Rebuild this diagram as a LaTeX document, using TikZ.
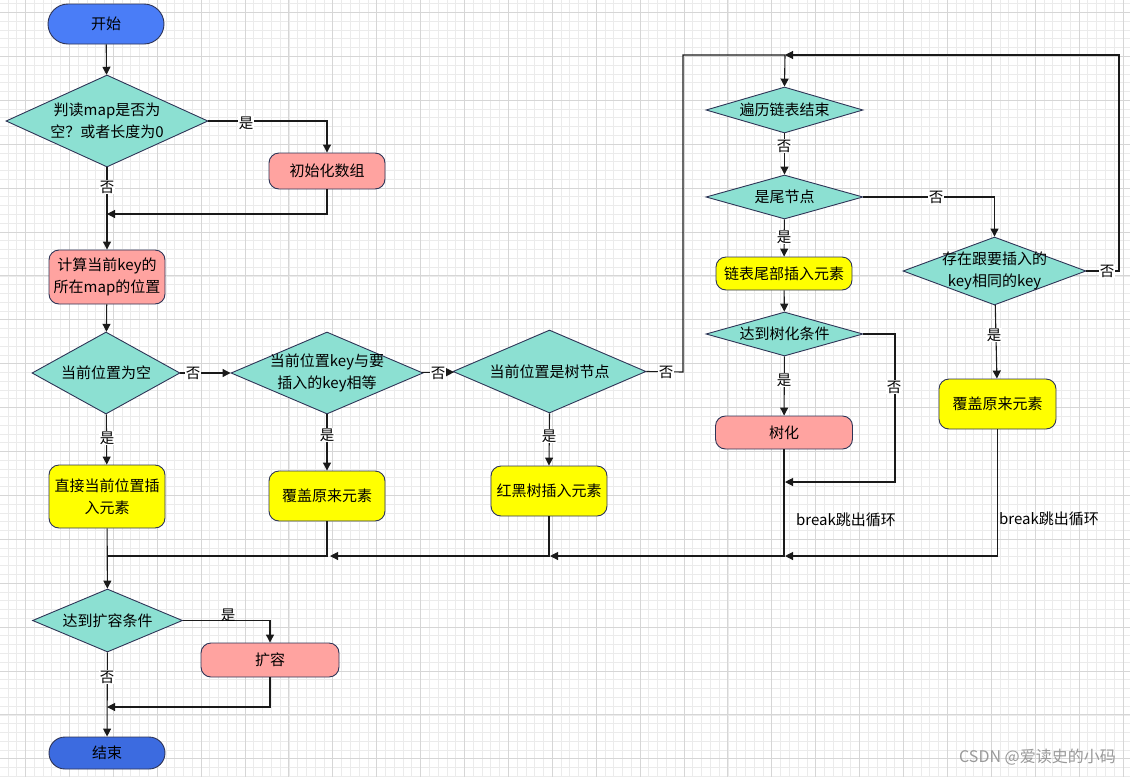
\documentclass[tikz,border=0pt]{standalone}
\usepackage{fontspec}
\setmainfont{Noto Sans CJK SC}
\usetikzlibrary{shapes.geometric,arrows.meta}
\definecolor{startblue}{HTML}{4A7DF7}
\definecolor{endblue}{HTML}{3C6BE0}
\definecolor{dteal}{HTML}{8CE0D2}
\definecolor{salmon}{HTML}{FFA3A0}
\definecolor{byellow}{HTML}{FFFF00}
\definecolor{border}{HTML}{2E3456}
\definecolor{edgec}{HTML}{1A1A1A}
\definecolor{gminor}{HTML}{EBEBEB}
\definecolor{gmajor}{HTML}{D6D6D6}
\begin{document}
\begin{tikzpicture}[x=1pt,y=-1pt,
  every node/.style={font=\fontsize{15}{22}\selectfont, text=black},
  box/.style={draw=border, line width=0.9pt, rounded corners=10, align=center, inner sep=0},
  term/.style={draw=border, line width=0.9pt, align=center, inner sep=0},
  dia/.style={diamond, draw=border, line width=0.9pt, fill=dteal, inner sep=0},
  dl/.style={label={[align=center, inner sep=0, font=\fontsize{15}{21.5}\selectfont]center:#1}},
  arr/.style={draw=edgec, line width=1.1pt, -{Triangle[length=8pt,width=8pt]}},
  ln/.style={draw=edgec, line width=1.1pt},
  lab/.style={fill=white, inner sep=1pt, font=\fontsize{14.5}{16}\selectfont}
]
\useasboundingbox (0,0) rectangle (1130,777);
\fill[white] (0,0) rectangle (1130,777);
% grid
\foreach \i in {-3,...,126} {
  \draw[gminor, line width=0.8pt] ({25.5+8.78*\i},0) -- ({25.5+8.78*\i},777);
}
\foreach \j in {-2,...,88} {
  \draw[gminor, line width=0.8pt] (0,{12.5+8.78*\j}) -- (1130,{12.5+8.78*\j});
}
\foreach \i in {0,...,25} {
  \draw[gmajor, line width=0.9pt] ({25.5+43.9*\i},0) -- ({25.5+43.9*\i},777);
}
\foreach \j in {0,...,17} {
  \draw[gmajor, line width=0.9pt] (0,{12.5+43.9*\j}) -- (1130,{12.5+43.9*\j});
}

% nodes
\node[term, fill=startblue, minimum width=116, minimum height=40, rounded corners=20] (start) at (106,24) {开始};
\node[dia, minimum width=202, minimum height=92, dl={判读map是否为\\空？或者长度为0}] (d1) at (107,121) {};
\node[box, fill=salmon, minimum width=116, minimum height=36] (init) at (327,171) {初始化数组};
\node[box, fill=salmon, minimum width=116, minimum height=54] (calc) at (107,277) {计算当前key的\\所在map的位置};
\node[dia, minimum width=148, minimum height=82, dl={当前位置为空}] (d2) at (106,373) {};
\node[dia, minimum width=192, minimum height=82, dl={当前位置key与要\\插入的key相等}] (d3) at (327,373) {};
\node[dia, minimum width=193, minimum height=83, dl={当前位置是树节点}] (d4) at (549.5,371.5) {};
\node[box, fill=byellow, minimum width=116, minimum height=63] (direct) at (107,496.5) {直接当前位置插\\入元素};
\node[box, fill=byellow, minimum width=116, minimum height=50] (cover1) at (327,496) {覆盖原来元素};
\node[box, fill=byellow, minimum width=116, minimum height=50] (rbt) at (549,491) {红黑树插入元素};
\node[dia, minimum width=157, minimum height=46, dl={遍历链表结束}] (d5) at (784.5,110) {};
\node[dia, minimum width=157, minimum height=44, dl={是尾节点}] (d6) at (784.5,197) {};
\node[box, fill=byellow, minimum width=136, minimum height=33] (tail) at (784,273.5) {链表尾部插入元素};
\node[dia, minimum width=157, minimum height=44, dl={达到树化条件}] (d8) at (784.5,334) {};
\node[box, fill=salmon, minimum width=137, minimum height=33] (tree) at (784,432.5) {树化};
\node[dia, minimum width=183, minimum height=68, dl={存在跟要插入的\\key相同的key}] (d7) at (994.5,271) {};
\node[box, fill=byellow, minimum width=117, minimum height=50] (cover2) at (997.5,404) {覆盖原来元素};
\node[dia, minimum width=150, minimum height=63, dl={达到扩容条件}] (d9) at (107.5,620.5) {};
\node[box, fill=salmon, minimum width=138, minimum height=34] (expand) at (270,660) {扩容};
\node[term, fill=endblue, minimum width=116, minimum height=32, rounded corners=16] (end) at (107,753) {结束};

% coordinates
\coordinate (j1) at (107,214);
\coordinate (l1) at (683,372);
\coordinate (loop) at (785,55);
\coordinate (r1) at (1119,271);
\coordinate (t1) at (895,334);
\coordinate (t2) at (785,482);
\coordinate (m1) at (107,556);
\coordinate (m2) at (330,556);
\coordinate (m3) at (550,556);
\coordinate (m4) at (785,556);
\coordinate (e1) at (107,707);

% connectors
\draw[arr] (start) -- (d1);
\draw[arr] (d1.east) -| (init.north);
\draw[arr] (d1) -- (calc);
\draw[arr] (init.south) |- (j1);
\draw[arr] (calc) -- (d2);
\draw[arr] (d2) -- (d3);
\draw[arr] (d3) -- (d4);
\draw[arr] (d4.east) -- (l1) |- (loop) -- (d5.north);
\draw[arr] (d7.east) -- (r1) |- (loop);
\draw[arr] (d5) -- (d6);
\draw[arr] (d6.east) -| (d7.north);
\draw[arr] (d6) -- (tail);
\draw[arr] (tail) -- (d8);
\draw[arr] (d8) -- (tree);
\draw[arr] (d8.east) -- (t1) |- (t2);
\draw[arr] (d7) -- (cover2);
\draw[arr] (tree.south) |- (m3);
\draw[arr] (cover2.south) |- (m4);
\draw[arr] (rbt.south) |- (m2);
\draw[ln] (cover1.south) |- (m1);
\draw[arr] (d2) -- (direct);
\draw[arr] (d3) -- (cover1);
\draw[arr] (d4.south) -- (rbt.north);
\draw[arr] (direct) -- (d9);
\draw[arr] (d9.east) -| (expand.north);
\draw[arr] (d9) -- (end);
\draw[arr] (expand.south) |- (e1);

% labels
\node[lab] (y1) at (246,123) {是};
\node[lab] (n1) at (107,187) {否};
\node[lab] (n2) at (193,373) {否};
\node[lab] (n3) at (438,373) {否};
\node[lab] (y2) at (107,438) {是};
\node[lab] (y3) at (327,435) {是};
\node[lab] (n4) at (666,372) {否};
\node[lab] (y4) at (549,436) {是};
\node[lab] (n5) at (784,146) {否};
\node[lab] (n6) at (936,197) {否};
\node[lab] (y6) at (784,237) {是};
\node[lab] (n7) at (1107,271) {否};
\node[lab] (y7) at (994,335) {是};
\node[lab] (y8) at (784,380) {是};
\node[lab] (n8) at (894,387) {否};
\node[lab, fill=none] (y9) at (228,615) {是};
\node[lab] (n9) at (107,677) {否};
\node[anchor=west, inner sep=0] (b1) at (796,520) {break跳出循环};
\node[anchor=west, inner sep=0] (b2) at (999,519) {break跳出循环};
\node[anchor=east, inner sep=0, text=gray!80, font=\fontsize{16}{18}\selectfont] (wm) at (1116,757) {CSDN @爱读史的小码};
\end{tikzpicture}
\end{document}
